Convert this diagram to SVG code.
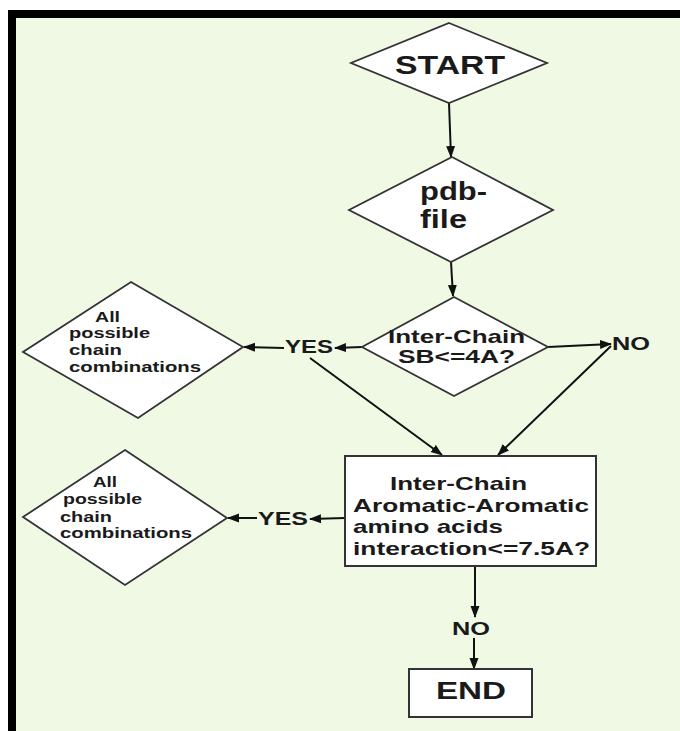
<svg xmlns="http://www.w3.org/2000/svg" width="680" height="731" viewBox="0 0 680 731">
<style>
.shape{fill:#ffffff;stroke:#333333;stroke-width:1.8;stroke-linejoin:miter}
.box{fill:#ffffff;stroke:#333333;stroke-width:2}
.lbl{font-family:"Liberation Sans",Arial,sans-serif;font-weight:bold;fill:#1a1a1a}
.conn{stroke:#111111;stroke-width:2;fill:none}
</style>
<defs>
<marker id="ah" markerUnits="userSpaceOnUse" markerWidth="12" markerHeight="10" refX="11" refY="4.5" orient="auto">
<path d="M0,0 L12,4.5 L0,9 z" fill="#111111"/>
</marker>
</defs>
<rect x="0" y="0" width="680" height="731" fill="#ffffff"/>
<rect x="12" y="14" width="720" height="760" fill="#f0f9e4" stroke="#000000" stroke-width="8"/>

<g id="connectors">
<line class="conn" x1="449" y1="103" x2="451" y2="157" marker-end="url(#ah)"/>
<line class="conn" x1="451" y1="262" x2="453" y2="296" marker-end="url(#ah)"/>
<line class="conn" x1="362" y1="347" x2="335" y2="348" marker-end="url(#ah)"/>
<line class="conn" x1="284" y1="348" x2="244" y2="347" marker-end="url(#ah)"/>
<line class="conn" x1="310" y1="358" x2="442" y2="455" marker-end="url(#ah)"/>
<line class="conn" x1="548" y1="347" x2="611" y2="344" marker-end="url(#ah)"/>
<line class="conn" x1="611" y1="346" x2="498" y2="455" marker-end="url(#ah)"/>
<line class="conn" x1="345" y1="518" x2="310" y2="519" marker-end="url(#ah)"/>
<line class="conn" x1="257" y1="518" x2="228" y2="518" marker-end="url(#ah)"/>
<line class="conn" x1="475" y1="566" x2="475" y2="617" marker-end="url(#ah)"/>
<line class="conn" x1="474" y1="638" x2="474" y2="669" marker-end="url(#ah)"/>
<text class="lbl" x="285" y="353" font-size="18" textLength="48" lengthAdjust="spacingAndGlyphs">YES</text>
<text class="lbl" x="612" y="350" font-size="18" textLength="38" lengthAdjust="spacingAndGlyphs">NO</text>
<text class="lbl" x="258" y="525" font-size="18" textLength="50" lengthAdjust="spacingAndGlyphs">YES</text>
<text class="lbl" x="452" y="635" font-size="18" textLength="38" lengthAdjust="spacingAndGlyphs">NO</text>
</g>

<g id="start">
<polygon class="shape" points="449,23 547,63 449,103 351,63"/>
<text class="lbl" x="395" y="74" font-size="26" textLength="110" lengthAdjust="spacingAndGlyphs">START</text>
</g>

<g id="pdb">
<polygon class="shape" points="452,157 553,210 451,262 349,210"/>
<text class="lbl" x="420" y="200" font-size="25" textLength="67" lengthAdjust="spacingAndGlyphs">pdb-</text>
<text class="lbl" x="420" y="228" font-size="25" textLength="47" lengthAdjust="spacingAndGlyphs">file</text>
</g>

<g id="sb">
<polygon class="shape" points="454,297 548,347 454,396 362,347"/>
<text class="lbl" x="388" y="343" font-size="18.5" textLength="137" lengthAdjust="spacingAndGlyphs">Inter-Chain</text>
<text class="lbl" x="398" y="363" font-size="18.5" textLength="117" lengthAdjust="spacingAndGlyphs">SB&lt;=4A?</text>
</g>

<g id="combos1">
<polygon class="shape" points="131,282 243,347 138,418 23,352"/>
<text class="lbl" x="95" y="322" font-size="14" textLength="25" lengthAdjust="spacingAndGlyphs">All</text>
<text class="lbl" x="69" y="338" font-size="14" textLength="81" lengthAdjust="spacingAndGlyphs">possible</text>
<text class="lbl" x="69" y="355" font-size="14" textLength="53" lengthAdjust="spacingAndGlyphs">chain</text>
<text class="lbl" x="69" y="372" font-size="14" textLength="132" lengthAdjust="spacingAndGlyphs">combinations</text>
</g>

<g id="aromatic">
<rect class="box" x="345" y="456" width="251" height="110"/>
<text class="lbl" x="390" y="490" font-size="19" textLength="137" lengthAdjust="spacingAndGlyphs">Inter-Chain</text>
<text class="lbl" x="353" y="512" font-size="19" textLength="236" lengthAdjust="spacingAndGlyphs">Aromatic-Aromatic</text>
<text class="lbl" x="353" y="533" font-size="19" textLength="150" lengthAdjust="spacingAndGlyphs">amino acids</text>
<text class="lbl" x="353" y="555" font-size="19" textLength="237" lengthAdjust="spacingAndGlyphs">interaction&lt;=7.5A?</text>
</g>

<g id="combos2">
<polygon class="shape" points="125,450 227,518 125,585 23,517"/>
<text class="lbl" x="93" y="487" font-size="14" textLength="24" lengthAdjust="spacingAndGlyphs">All</text>
<text class="lbl" x="63" y="504" font-size="14" textLength="79" lengthAdjust="spacingAndGlyphs">possible</text>
<text class="lbl" x="60" y="522" font-size="14" textLength="52" lengthAdjust="spacingAndGlyphs">chain</text>
<text class="lbl" x="60" y="538" font-size="14" textLength="132" lengthAdjust="spacingAndGlyphs">combinations</text>
</g>

<g id="end">
<rect class="box" x="409" y="669" width="123" height="48"/>
<text class="lbl" x="436" y="699" font-size="24" textLength="70" lengthAdjust="spacingAndGlyphs">END</text>
</g>
</svg>
